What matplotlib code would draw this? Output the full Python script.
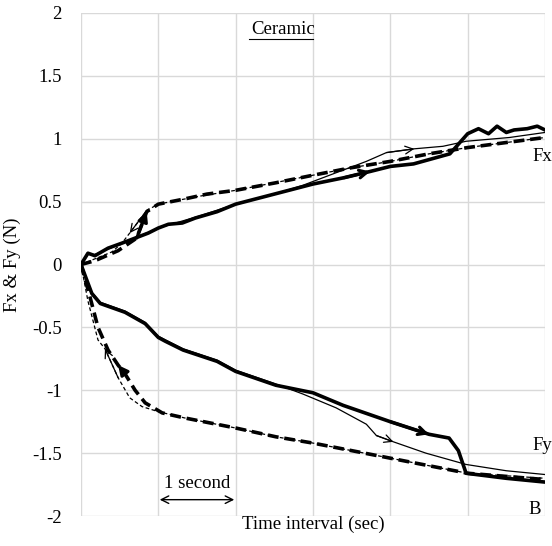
import matplotlib.pyplot as plt

plt.rcParams['font.family'] = ['Liberation Serif', 'DejaVu Serif']
plt.rcParams['font.size'] = 13.5

# Fx curves (time in seconds, force in N)
fx_thick_t = [0, 0.09, 0.18, 0.35, 0.53, 0.7, 0.87, 1.0, 1.13, 1.31, 1.48, 1.76, 2.0, 2.5, 3.0,
              3.4, 3.74, 4.0, 4.3, 4.77, 5.0, 5.14, 5.27, 5.38, 5.5, 5.6, 5.77, 5.9, 6.0]
fx_thick = [0, 0.09, 0.07, 0.13, 0.17, 0.21, 0.25, 0.29, 0.32, 0.33, 0.37, 0.42, 0.48, 0.56, 0.64,
            0.69, 0.74, 0.78, 0.80, 0.88, 1.04, 1.08, 1.04, 1.10, 1.05, 1.07, 1.08, 1.10, 1.07]
fx_thin_t = [0, 0.09, 0.18, 0.5, 1.0, 1.5, 2.0, 2.5, 2.87, 3.3, 3.69, 3.95, 4.31, 4.68, 4.98, 5.54, 6.0]
fx_thin = [0, 0.08, 0.08, 0.16, 0.29, 0.38, 0.48, 0.56, 0.63, 0.73, 0.82, 0.89, 0.92, 0.94, 0.98, 1.01, 1.05]
fx_dash_t = [0, 0.18, 0.48, 0.72, 0.85, 1.0, 1.33, 1.63, 2.0, 2.52, 3.0, 3.5, 4.0, 4.5, 5.0, 5.5, 6.0]
fx_dash = [0, 0.03, 0.11, 0.21, 0.42, 0.48, 0.52, 0.56, 0.59, 0.65, 0.71, 0.77, 0.82, 0.88, 0.93, 0.97, 1.01]
fx_dot_t = [0, 0.2, 0.4, 0.53, 0.63, 0.85, 1.0, 1.5, 2.0, 2.5, 3.0, 3.5, 4.0, 4.5, 5.0, 5.5, 6.0]
fx_dot = [0, 0.05, 0.10, 0.17, 0.25, 0.43, 0.48, 0.54, 0.59, 0.65, 0.71, 0.77, 0.82, 0.88, 0.93, 0.97, 1.01]

# Fy curves
fy_thick_t = [0, 0.14, 0.25, 0.57, 0.83, 1.0, 1.09, 1.32, 1.76, 2.0, 2.52, 3.0, 3.39, 4.0, 4.5,
              4.76, 4.88, 4.98, 5.5, 6.0]
fy_thick = [0, -0.23, -0.31, -0.38, -0.47, -0.58, -0.61, -0.68, -0.77, -0.85, -0.96, -1.02, -1.12,
            -1.25, -1.35, -1.38, -1.48, -1.66, -1.70, -1.73]
fy_thin_t = [0, 0.14, 0.25, 0.57, 0.83, 1.0, 1.32, 1.76, 2.0, 2.52, 2.87, 3.3, 3.69, 3.82, 4.04,
             4.46, 4.98, 5.5, 6.0]
fy_thin = [0, -0.22, -0.30, -0.37, -0.46, -0.57, -0.67, -0.76, -0.84, -0.95, -1.03, -1.14, -1.27,
           -1.36, -1.41, -1.50, -1.59, -1.64, -1.67]
fy_dash_t = [0, 0.1, 0.22, 0.35, 0.48, 0.57, 0.70, 0.83, 1.05, 1.34, 2.0, 2.52, 3.0, 4.0, 5.0, 6.0]
fy_dash = [0, -0.22, -0.50, -0.68, -0.80, -0.87, -1.0, -1.1, -1.18, -1.22, -1.30, -1.37, -1.42,
           -1.54, -1.66, -1.71]
fy_dot_t = [0, 0.09, 0.22, 0.31, 0.48, 0.63, 0.79, 1.0, 1.34, 2.0, 2.52, 3.0, 4.0, 5.0, 6.0]
fy_dot = [0, -0.29, -0.60, -0.67, -0.90, -1.06, -1.13, -1.17, -1.22, -1.30, -1.37, -1.42,
          -1.54, -1.66, -1.70]

fig = plt.figure(figsize=(5.52, 5.46), dpi=100)
ax = fig.add_axes([0.1467, 0.0549, 0.8406, 0.9213])

thick = 2.6
thin = 0.9
ax.plot(fx_thin_t, fx_thin, color='black', lw=thin)
ax.plot(fx_thick_t, fx_thick, color='black', lw=thick)
ax.plot(fx_dot_t, fx_dot, color='black', lw=thin, dashes=(3, 2))
ax.plot(fx_dash_t, fx_dash, color='black', lw=thick, dashes=(3, 1.6))
ax.plot(fy_thin_t, fy_thin, color='black', lw=thin)
ax.plot(fy_thick_t, fy_thick, color='black', lw=thick)
ax.plot(fy_dot_t, fy_dot, color='black', lw=thin, dashes=(3, 2))
ax.plot(fy_dash_t, fy_dash, color='black', lw=thick, dashes=(3, 1.6))


def arrow(t, v, head, tail, lw, style):
    ax.annotate('', xy=(t[head], v[head]), xytext=(t[tail], v[tail]),
                arrowprops=dict(arrowstyle=style, lw=lw, color='black',
                                mutation_scale=14, shrinkA=0, shrinkB=0))


# direction arrows
arrow(fx_thick_t, fx_thick, 16, 15, 2.2, '->')
arrow(fx_thin_t, fx_thin, 12, 11, 0.9, '->')
arrow(fx_dot_t, fx_dot, 4, 5, 0.9, '->')
arrow(fx_dash_t, fx_dash, 4, 3, 2.2, '-|>')
arrow(fy_thick_t, fy_thick, 14, 13, 2.2, '->')
arrow(fy_thin_t, fy_thin, 14, 13, 0.9, '->')
arrow(fy_dot_t, fy_dot, 3, 4, 0.9, '->')
arrow(fy_dash_t, fy_dash, 4, 5, 2.2, '-|>')

# 1 second scale bar
ax.annotate('', xy=(1.0, -1.87), xytext=(2.0, -1.87),
            arrowprops=dict(arrowstyle='<->', lw=1.0, color='black', shrinkA=1, shrinkB=1))
ax.text(1.5, -1.74, '1 second', ha='center', va='center')

ax.text(2.62, 1.87, 'Ceramic', ha='center', va='center')
ax.plot([2.17, 3.0], [1.79, 1.79], color='black', lw=0.8)
ax.text(5.97, 0.86, 'Fx', ha='center', va='center')
ax.text(5.97, -1.44, 'Fy', ha='center', va='center')
ax.text(5.87, -1.95, 'B', ha='center', va='center')

ax.set_xlim(0, 6)
ax.set_ylim(-2, 2)
ax.set_xticks(range(0, 7))
ax.set_xticklabels([])
ax.set_yticks([-2, -1.5, -1, -0.5, 0, 0.5, 1, 1.5, 2])
ax.set_yticklabels(['-2', '-1.5', '-1', '-0.5', '0', '0.5', '1', '1.5', '2'])
ax.tick_params(axis='y', length=0, pad=14)
ax.tick_params(axis='x', length=0, pad=0)
ax.grid(True, color='#d9d9d9', lw=1.0)
ax.set_axisbelow(True)
for s in ax.spines.values():
    s.set_visible(False)
ax.set_xlabel('Time interval (sec)', labelpad=0)
ax.set_ylabel('Fx & Fy (N)', labelpad=8)

plt.savefig('out.png', dpi=100)
